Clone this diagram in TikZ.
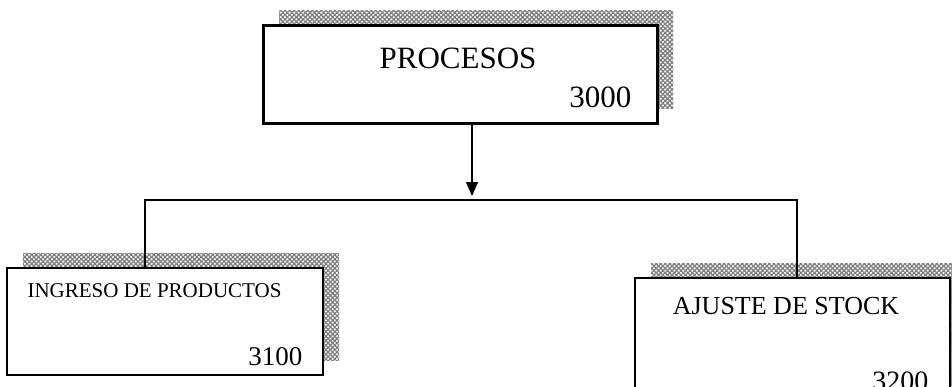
\documentclass[tikz,border=0pt]{standalone}
\usepackage{fontspec}
\setmainfont{Liberation Serif}
\usetikzlibrary{positioning, arrows.meta, shadows, patterns.meta}

\begin{document}
\begin{tikzpicture}[x=1pt, y=-1pt, on grid,
    box/.style={draw, fill=white, line width=1.3pt, inner sep=0pt,
        general shadow={shadow xshift=16pt, shadow yshift=15pt, draw=none,
            pattern={Hatch[angle=45, distance=3.2pt, line width=1.3pt]}, pattern color=gray}},
    txt/.style={inner sep=0pt},
    link/.style={line width=1.2pt}]
    \useasboundingbox (0,0) rectangle (952,386);
    \clip (0,0) rectangle (952,386);

    \node[box, line width=3pt, minimum width=394pt, minimum height=98pt] (p) at (460,74) {};
    \node[box, minimum width=316pt, minimum height=107pt] (ing) [below left=247.5pt and 295pt of p] {};
    \node[box, minimum width=315pt, minimum height=122pt] (aju) [below right=265pt and 332.5pt of p] {};

    % texts
    \node[txt, anchor=base, font=\fontsize{31}{31}\selectfont] (pt) at ([xshift=-2pt, yshift=-45pt]p.north) {PROCESOS};
    \node[txt, anchor=base east, font=\fontsize{31}{31}\selectfont] (pn) at ([xshift=-27pt, yshift=17pt]p.south east) {3000};
    \node[txt, anchor=base west, font=\fontsize{21}{21}\selectfont] (ingt) at ([xshift=21pt, yshift=-30pt]ing.north west) {INGRESO DE PRODUCTOS};
    \node[txt, anchor=base east, font=\fontsize{27}{27}\selectfont] (ingn) at ([xshift=-21pt, yshift=10pt]ing.south east) {3100};
    \node[txt, anchor=base, font=\fontsize{26}{26}\selectfont] (ajut) at ([xshift=-6.5pt, yshift=-37pt]aju.north) {AJUSTE DE STOCK};
    \node[txt, anchor=base east, font=\fontsize{28}{28}\selectfont] (ajun) at ([xshift=-22pt, yshift=10pt]aju.south east) {3200};

    % connectors
    \coordinate (busl) at (145,200);
    \coordinate (busr) at (797,200);
    \draw[link] (ing.north -| busl) |- (busr) -- (aju.north -| busr);
    \draw[link, -{Triangle[width=12pt, length=14pt]}, shorten >=4pt] ([xshift=12pt]p.south) -- ([xshift=12pt]p.south |- busl);
\end{tikzpicture}
\end{document}
